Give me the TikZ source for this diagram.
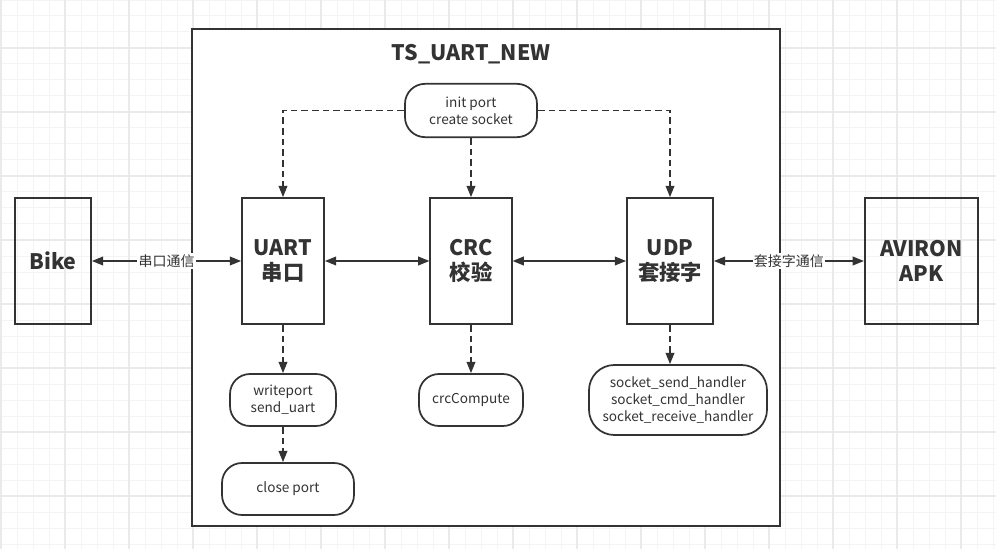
\documentclass[tikz,border=0pt]{standalone}
\usepackage{fontspec}
\setmainfont{Noto Sans CJK SC}
\usepackage{xcolor}
\definecolor{inkgray}{RGB}{51,51,51}
\definecolor{gridminor}{RGB}{244,244,244}
\definecolor{gridmajor}{RGB}{234,234,234}
\usetikzlibrary{arrows.meta}
\tikzset{
    >={Triangle[length=8.5pt, width=6.5pt]},
    common/.style={draw=inkgray, line width=1.3pt, text=inkgray, align=center, inner sep=0pt},
    block/.style={common, rectangle, minimum height=94.5pt, font=\bfseries\fontsize{16}{19}\selectfont},
    func/.style={common, rounded corners=15pt, minimum height=39pt, font=\fontsize{10.2}{12.5}\selectfont},
    link/.style={<->, inkgray, line width=1.3pt},
    call/.style={->, inkgray, line width=1.3pt, dash pattern=on 5pt off 3pt},
    linklabel/.style={fill=white, text=inkgray, inner sep=1pt, font=\fontsize{10.5}{12}\selectfont}
}

\begin{document}
\begin{tikzpicture}[x=0.75pt, y=-0.75pt]
      \useasboundingbox (0,0) rectangle (996,549);

      % background grid
      \draw[gridminor, line width=0.75pt, shift={(1,0)}] (-1,0) grid[step=12pt] (996,549);
      \draw[gridmajor, line width=0.9pt, shift={(1,48)}] (-1,-48) grid[step=48pt] (995,501);

      % frame of the program
      \draw[inkgray, line width=1.3pt, fill=white] (192,29) rectangle (780,526);
      \node[text=inkgray, font=\bfseries\fontsize{16}{19}\selectfont] (title) at (471,54) {TS\_UART\_NEW};

      \path
          (471,261) node[block, minimum width=61pt] (crc) {CRC\\校验}
          +(-188,0) node[block, minimum width=61.5pt] (uart) {UART\\串口}
          +(199,0) node[block, minimum width=64.5pt] (udp) {UDP\\套接字}
          +(-418,0) node[block, minimum width=57pt] (bike) {Bike}
          +(450.5,0) node[block, minimum width=85pt] (apk) {AVIRON\\APK};

      \path
          (471,110.5) node[func, minimum width=99pt, minimum height=40pt] (init) {init port\\create socket}
          (283,400) node[func, minimum width=79.5pt] (write) {writeport\\send\_uart}
          (288,489) node[func, minimum width=99pt] (close) {close port}
          (471,400) node[func, minimum width=78pt] (compute) {crcCompute}
          (678,400) node[func, rounded corners=19pt, minimum width=133.5pt, minimum height=52.5pt] (sock) {socket\_send\_handler\\socket\_cmd\_handler\\socket\_receive\_handler};

      \draw[link] (bike) -- node[linklabel] {串口通信} (uart);
      \draw[link] (uart) -- (crc);
      \draw[link] (crc) -- (udp);
      \draw[link] (udp) -- node[linklabel] {套接字通信} (apk);

      \draw[call] (init.west) -| (uart.north);
      \draw[call] (init.east) -| (udp.north);
      \draw[call] (init) -- (crc);
      \draw[call] (uart) -- (write);
      \draw[call] (write.south) -- (write.south |- close.north);
      \draw[call] (crc) -- (compute);
      \draw[call] (udp.south) -- (udp.south |- sock.north);
    \end{tikzpicture}
\end{document}
